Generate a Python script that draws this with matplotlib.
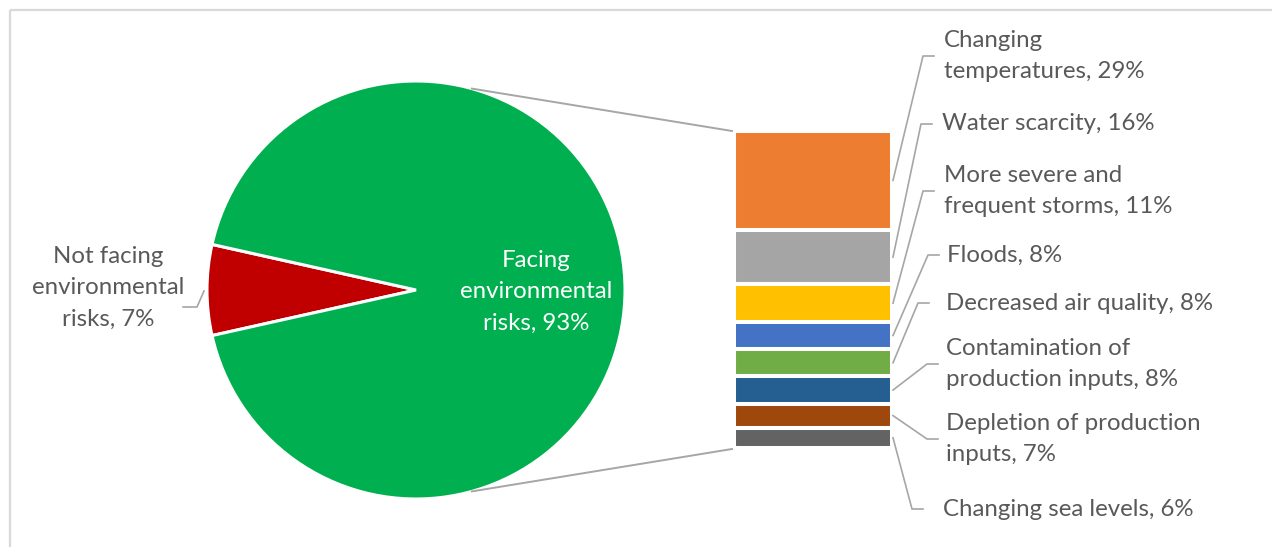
import numpy as np
import matplotlib.pyplot as plt

# pie: share of firms facing environmental risks
pie_labels = ["Not facing\nenvironmental\nrisks, 7%", "Facing\nenvironmental\nrisks, 93%"]
pie_values = [7, 93]
pie_colors = ["#C00000", "#00B050"]

# breakdown of the 93% slice, top to bottom of the stacked bar
risk_labels = [
    "Changing\ntemperatures, 29%",
    "Water scarcity, 16%",
    "More severe and\nfrequent storms, 11%",
    "Floods, 8%",
    "Decreased air quality, 8%",
    "Contamination of\nproduction inputs, 8%",
    "Depletion of production\ninputs, 7%",
    "Changing sea levels, 6%",
]
risk_values = [29, 16, 11, 8, 8, 8, 7, 6]
risk_colors = ["#ED7D31", "#A5A5A5", "#FFC000", "#4472C4",
               "#70AD47", "#255E91", "#9E480E", "#636363"]

# label placement for the bar segments (text x, text y, elbow x)
label_x = [944, 942, 944, 947, 946, 946, 946, 943]
label_y = [56, 124, 191, 255, 303, 364, 439, 509]
elbow_x = [923, 921, 923, 928, 918, 927, 927, 912]

W, H = 1272, 547
text_gray = "#595959"
fs = 17.3
ls = 1.6
plt.rcParams["font.family"] = ["Lato", "DejaVu Sans"]

fig = plt.figure(figsize=(W / 100, H / 100), dpi=100)
ax = fig.add_axes([0, 0, 1, 1])

# pie (y axis is flipped below, so the small slice stays centred on the left)
cx, cy, r = 416, 290, 209
start = 180 - pie_values[0] / sum(pie_values) * 360 / 2
ax.pie(pie_values, colors=pie_colors, center=(cx, cy), radius=r,
       startangle=start, counterclock=True, frame=True,
       wedgeprops=dict(edgecolor="white", linewidth=2.2))
ax.set_xlim(0, W)
ax.set_ylim(H, 0)
ax.set_aspect("equal")
ax.axis("off")

# frame along top and left
ax.plot([9.5, W], [9.5, 9.5], color="#D9D9D9", lw=1.6, solid_capstyle="butt")
ax.plot([9.5, 9.5], [9.5, H], color="#D9D9D9", lw=1.6, solid_capstyle="butt")

ax.text(536, 292, pie_labels[1], color="white", fontsize=fs,
        ha="center", va="center", linespacing=ls)
ax.text(108, 288, pie_labels[0], color=text_gray, fontsize=fs,
        ha="center", va="center", linespacing=ls)
ax.plot([183, 197, 204], [307, 307, 291], color="#A6A6A6", lw=1.2)

# stacked bar
bar_left, bar_right = 734, 892
bar_top, bar_bottom = 131, 448
scale = (bar_bottom - bar_top) / sum(risk_values)
heights = np.array(risk_values) * scale
bottoms = bar_top + np.concatenate([[0], np.cumsum(heights)[:-1]])
ax.bar((bar_left + bar_right) / 2, heights, bottom=bottoms,
       width=bar_right - bar_left, color=risk_colors,
       edgecolor="white", linewidth=2.9)

# connector lines from pie to bar
ang = np.deg2rad(74.5)
px, py = cx + r * np.cos(ang), cy - r * np.sin(ang)
ax.plot([px, 732], [py, 131], color="#A6A6A6", lw=1.4)
py2 = cy + r * np.sin(ang)
ax.plot([px, 732], [py2, 449], color="#A6A6A6", lw=1.4)

# segment labels with leader lines
mids = bottoms + heights / 2
for lab, tx, ty, ex, my in zip(risk_labels, label_x, label_y, elbow_x, mids):
    ax.plot([893, ex, ex + 11], [my, ty, ty], color="#A6A6A6", lw=1.2)
    ax.text(tx, ty, lab, color=text_gray, fontsize=fs,
            ha="left", va="center", linespacing=ls)

fig.savefig("out.png", dpi=100)
